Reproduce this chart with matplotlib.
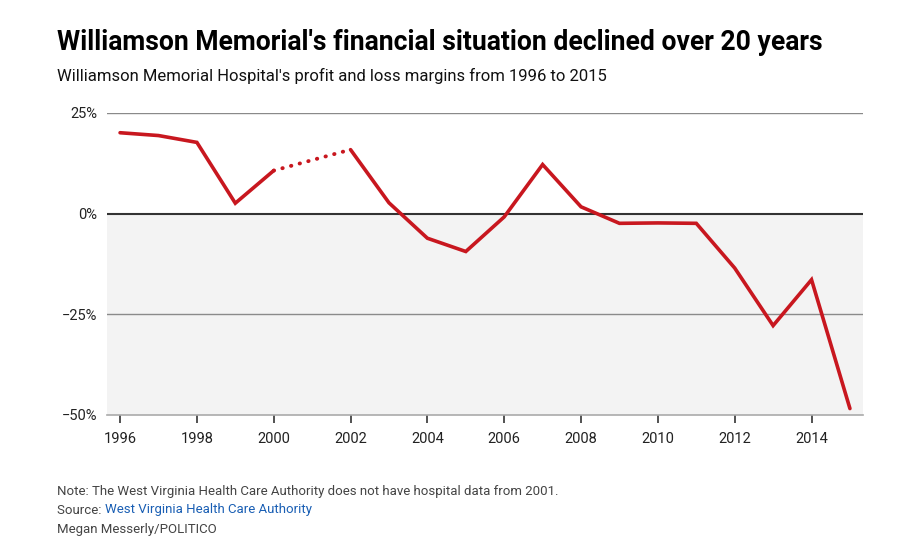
import matplotlib
matplotlib.use("Agg")
import matplotlib.pyplot as plt
import numpy as np

plt.rcParams['font.family'] = ['Roboto', 'DejaVu Sans']

years_a = [1996, 1997, 1998, 1999, 2000]
margin_a = [20.1, 19.4, 17.7, 2.6, 10.7]
years_gap = [2000, 2002]
margin_gap = [10.7, 15.9]
years_b = [2002, 2003, 2004, 2005, 2006, 2007, 2008, 2009, 2010, 2011, 2012, 2013, 2014, 2015]
margin_b = [15.9, 2.7, -6.1, -9.4, -0.8, 12.2, 1.7, -2.4, -2.3, -2.4, -13.5, -27.8, -16.4, -48.4]
xticks = [1996, 1998, 2000, 2002, 2004, 2006, 2008, 2010, 2012, 2014]
yticks = [25, 0, -25, -50]
ytick_labels = ["25%", "0%", "\u221225%", "\u221250%"]

W, H = 900, 555
fig = plt.figure(figsize=(9, 5.55), dpi=100)
ax = fig.add_axes([107/W, 1-415/H, (863-107)/W, (415-113)/H])

red = '#c8171f'
ax.axhspan(-50, 0, color='#f3f3f3', zorder=0, lw=0)
for y in [25, -25]:
    ax.axhline(y, color='#8a8a8a', lw=1.0, zorder=1)
ax.axhline(0, color='#333333', lw=1.5, zorder=2)

ax.plot(years_a, margin_a, color=red, lw=2.6, solid_capstyle='round', solid_joinstyle='miter', zorder=3)
ax.plot(years_b, margin_b, color=red, lw=2.6, solid_capstyle='round', solid_joinstyle='miter', zorder=3)
ax.plot(years_gap, margin_gap, color=red, lw=2.8, linestyle=(0, (0.1, 2.2)), dash_capstyle='round', zorder=3)

ax.set_xlim(1995.66, 2015.34)
ax.set_ylim(-50, 25)
for s in ['top', 'right', 'left']:
    ax.spines[s].set_visible(False)
ax.spines['bottom'].set_color('#aaaaaa')
ax.spines['bottom'].set_linewidth(1.2)
ax.set_xticks(xticks)
ax.set_xticklabels([str(x) for x in xticks], fontsize=10.5, color='#222222')
ax.tick_params(axis='x', length=6, width=1.2, color='#333333', pad=6)
ax.set_yticks(yticks)
ax.set_yticklabels(ytick_labels, fontsize=10.5, color='#222222')
ax.tick_params(axis='y', length=0, pad=7)

fig.text(57/W, 1-42/H, "Williamson Memorial's financial situation declined over 20 years",
         fontsize=19.1, fontweight='bold', color='#000000', va='center', ha='left')
fig.text(57/W, 1-76/H, "Williamson Memorial Hospital's profit and loss margins from 1996 to 2015",
         fontsize=12, color='#111111', va='center', ha='left')

fig.text(57/W, 1-491/H, "Note: The West Virginia Health Care Authority does not have hospital data from 2001.",
         fontsize=9.5, color='#444444', va='center', ha='left')
t1 = fig.text(57/W, 1-510/H, "Source: ", fontsize=9.5, color='#444444', va='center', ha='left')
fig.canvas.draw()
bb = t1.get_window_extent()
fig.text(bb.x1/W, 1-510/H, "West Virginia Health Care Authority", fontsize=9.5, color='#1a5fb4', va='center', ha='left')
fig.text(57/W, 1-529/H, "Megan Messerly/POLITICO", fontsize=9.5, color='#444444', va='center', ha='left')

fig.savefig("out.png", dpi=100)
